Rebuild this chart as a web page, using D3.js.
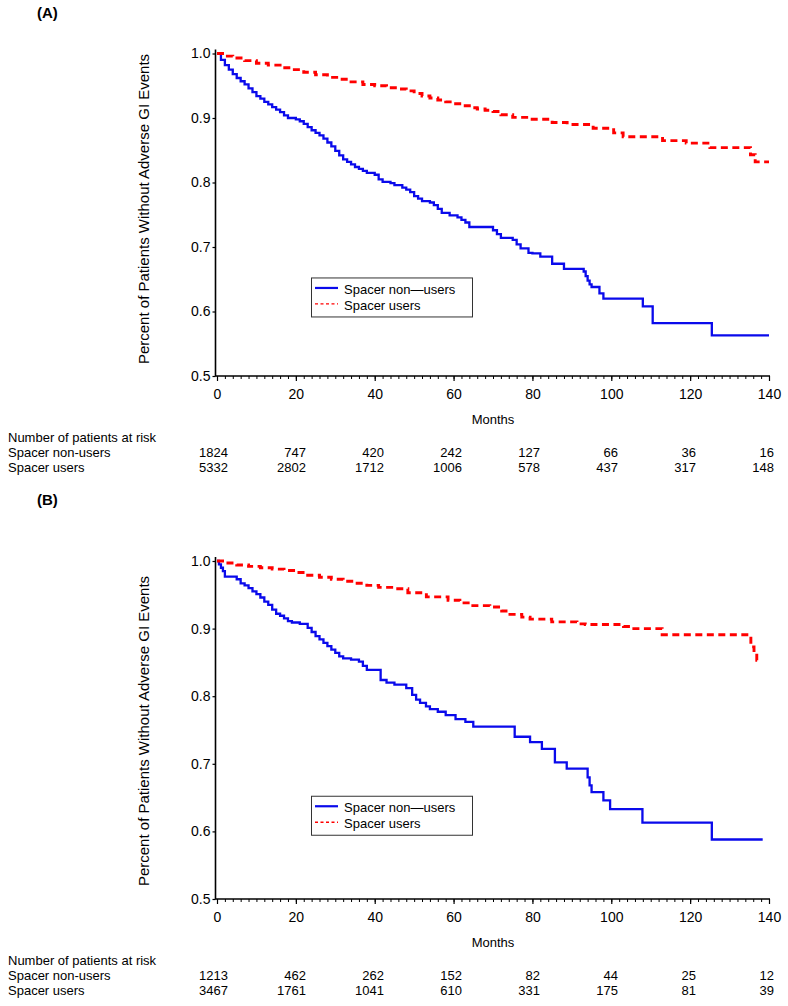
<!DOCTYPE html>
<html><head><meta charset="utf-8">
<script src="https://cdn.jsdelivr.net/npm/d3@7"></script>
<style>
body{margin:0;background:#fff}
svg{display:block}
text{font-family:"Liberation Sans",Arial,Helvetica,sans-serif;fill:#000}
</style></head>
<body><svg id="chart" width="788" height="1006"></svg>
<script>
// ---------- data ----------
const panelLabels = ["(A)", "(B)"];
const xTicks = [0, 20, 40, 60, 80, 100, 120, 140];
const yTicks = [0.5, 0.6, 0.7, 0.8, 0.9, 1.0];
const yTitle = "Percent of Patients Without Adverse GI Events";
const xTitle = "Months";
const seriesNames = ["Spacer non\u2014users", "Spacer users"];
const riskTitle = "Number of patients at risk";
const riskRowLabels = ["Spacer non-users", "Spacer users"];

const riskA_nonusers = [1824, 747, 420, 242, 127, 66, 36, 16];
const riskA_users    = [5332, 2802, 1712, 1006, 578, 437, 317, 148];
const riskB_nonusers = [1213, 462, 262, 152, 82, 44, 25, 12];
const riskB_users    = [3467, 1761, 1041, 610, 331, 175, 81, 39];

// Panel A, spacer non-users (months, survival)
const A_non_t = [0,1,2,3,4,5,6,7,8,9,10,11,12,13,14,15,16,17,18,20,21,22,23,24,25,26,27,28,29,30,31,32,33,34,35,36,37,38,40,41,42,44,45,47,48,49,50,51,52,54,55,56,57,59,61,62,63,64,70,71,72,75,76,77,79,80,82,85,88,93,93.5,94,94.5,95,97,98,108,110.5,125.5,140];
const A_non_s = [1,0.99,0.982,0.975,0.968,0.962,0.957,0.952,0.946,0.94,0.934,0.93,0.925,0.921,0.917,0.913,0.909,0.904,0.9,0.898,0.895,0.891,0.886,0.881,0.877,0.873,0.868,0.862,0.856,0.849,0.842,0.836,0.832,0.828,0.824,0.821,0.818,0.815,0.812,0.805,0.801,0.799,0.796,0.792,0.789,0.785,0.779,0.775,0.771,0.769,0.765,0.759,0.753,0.749,0.746,0.742,0.738,0.731,0.726,0.72,0.714,0.711,0.704,0.698,0.691,0.69,0.685,0.674,0.666,0.662,0.655,0.648,0.642,0.638,0.628,0.62,0.608,0.582,0.563,0.563];
// Panel A, spacer users
const A_use_t = [0,2,4,7,10,13,16,19,22,25,28,31,34,37,40,43,46,48,50,52,54,56,58,60,62,64,66,68,70,72,75,79.4,85,88.8,95.4,100.6,103,113,119,125,135.3,136.5,140];
const A_use_s = [1,0.996,0.993,0.989,0.985,0.982,0.978,0.975,0.971,0.967,0.963,0.96,0.956,0.952,0.95,0.947,0.945,0.942,0.938,0.934,0.931,0.928,0.925,0.922,0.919,0.916,0.914,0.912,0.91,0.905,0.901,0.898,0.893,0.89,0.884,0.877,0.871,0.865,0.861,0.854,0.843,0.832,0.832];
// Panel B, spacer non-users
const B_non_t = [0,0.5,1,1.5,2,5,6,7,8,9,10,11,12,13,14,15,16,17,18,19,21,23,24,25,26,27,28,29,30,31,32,34,36,37,38,41.5,43,45,48,49.5,50.5,51.5,53,54,56,58,60.5,63,65,75.5,79.4,82.4,85.7,88.7,94,94.5,95,98,99.7,107.9,125.5,138.4];
const B_non_s = [1,0.995,0.99,0.985,0.977,0.973,0.967,0.964,0.96,0.955,0.951,0.946,0.94,0.935,0.928,0.922,0.919,0.915,0.911,0.909,0.907,0.901,0.895,0.889,0.884,0.879,0.874,0.869,0.864,0.859,0.856,0.854,0.851,0.845,0.839,0.824,0.82,0.817,0.812,0.802,0.795,0.79,0.785,0.781,0.777,0.772,0.766,0.762,0.755,0.74,0.732,0.722,0.702,0.693,0.68,0.668,0.658,0.646,0.633,0.613,0.588,0.588];
// Panel B, spacer users
const B_use_t = [0,2,5,8,11,14,17,20,23,26,29,32,35,38,41,45,48.4,53.1,58.6,61.6,63.7,69.2,72.2,74.3,77.3,79.4,84.9,91.3,93.4,103.1,105.3,112.9,135.4,136.2,136.9,137.2];
const B_use_s = [1,0.997,0.994,0.992,0.99,0.988,0.986,0.983,0.979,0.976,0.973,0.97,0.967,0.964,0.961,0.959,0.953,0.947,0.942,0.938,0.934,0.932,0.926,0.921,0.917,0.914,0.91,0.907,0.906,0.903,0.9,0.891,0.873,0.864,0.853,0.853];

// ---------- drawing ----------
const svg = d3.select("#chart");
const BLUE = "#0a0aeb", RED = "#ff0000";

const panels = [
  {label: panelLabels[0], yTop: 53.5, yBot: 376, labelY: 13, titleY: 209,
   non: [A_non_t, A_non_s], use: [A_use_t, A_use_s], risk: [riskA_nonusers, riskA_users]},
  {label: panelLabels[1], yTop: 561, yBot: 899, labelY: 500, titleY: 731,
   non: [B_non_t, B_non_s], use: [B_use_t, B_use_s], risk: [riskB_nonusers, riskB_users]}
];

function drawPanel(p) {
  const g = svg.append("g");
  const x = d3.scaleLinear().domain([0, 140]).range([217, 769]);
  const y = d3.scaleLinear().domain([0.5, 1.0]).range([p.yBot, p.yTop]);
  const axisX = 215.5;

  g.append("text").attr("x", 37).attr("y", p.labelY).attr("dy", "0.35em")
    .style("font-size", "15px").style("font-weight", "bold").text(p.label);

  // y axis
  const ya = g.append("g").attr("transform", `translate(${axisX},0)`)
    .call(d3.axisLeft(y).tickValues(yTicks).tickFormat(d3.format(".1f")).tickSize(3).tickSizeOuter(0).tickPadding(2));
  ya.select(".domain").remove();
  ya.selectAll("text").style("font-size", "14px").style("font-family", '"Liberation Sans",Arial,sans-serif');
  ya.selectAll("line").attr("stroke", "#000").attr("stroke-width", 1.2);
  g.append("line").attr("x1", axisX).attr("x2", axisX).attr("y1", p.yTop - 4).attr("y2", p.yBot + 0.5)
    .attr("stroke", "#000").attr("stroke-width", 1.6);

  // x axis minor
  const xm = g.append("g").attr("transform", `translate(0,${p.yBot})`)
    .call(d3.axisBottom(x).tickValues(d3.range(0, 141, 2)).tickFormat("").tickSize(3).tickSizeOuter(0));
  xm.select(".domain").remove();
  xm.selectAll("line").attr("stroke", "#000").attr("stroke-width", 1);
  const xa = g.append("g").attr("transform", `translate(0,${p.yBot})`)
    .call(d3.axisBottom(x).tickValues(xTicks).tickSize(5).tickSizeOuter(0).tickPadding(8));
  xa.select(".domain").remove();
  xa.selectAll("line").attr("stroke", "#000").attr("stroke-width", 1.2);
  xa.selectAll("text").style("font-size", "14px").style("font-family", '"Liberation Sans",Arial,sans-serif');
  g.append("line").attr("x1", axisX).attr("x2", 770).attr("y1", p.yBot).attr("y2", p.yBot)
    .attr("stroke", "#000").attr("stroke-width", 1.6);

  // titles
  g.append("text").attr("transform", `translate(144,${p.titleY}) rotate(-90)`)
    .attr("text-anchor", "middle").attr("dy", "0.35em").style("font-size", "15px").text(yTitle);
  g.append("text").attr("x", (x(0) + x(140)) / 2).attr("y", p.yBot + 43).attr("dy", "0.35em")
    .attr("text-anchor", "middle").style("font-size", "13px").text(xTitle);

  // curves
  const line = d3.line().x(d => x(d[0])).y(d => y(d[1])).curve(d3.curveStepAfter);
  const nonPts = p.non[0].map((t, i) => [t, p.non[1][i]]);
  const usePts = p.use[0].map((t, i) => [t, p.use[1][i]]);
  g.append("path").datum(nonPts).attr("d", line).attr("fill", "none")
    .attr("stroke", BLUE).attr("stroke-width", 2.3);
  g.append("path").datum(usePts).attr("d", line).attr("fill", "none")
    .attr("stroke", RED).attr("stroke-width", 2.9).attr("stroke-dasharray", "7,4.5");

  // legend
  const ly = y(0.652);
  const lg = g.append("g");
  lg.append("rect").attr("x", 311.5).attr("y", ly).attr("width", 161).attr("height", 39)
    .attr("fill", "#fff").attr("stroke", "#333").attr("stroke-width", 1);
  lg.append("line").attr("x1", 315).attr("x2", 338).attr("y1", ly + 10).attr("y2", ly + 10)
    .attr("stroke", BLUE).attr("stroke-width", 2.2);
  lg.append("line").attr("x1", 315).attr("x2", 338).attr("y1", ly + 26).attr("y2", ly + 26)
    .attr("stroke", RED).attr("stroke-width", 1.3).attr("stroke-dasharray", "3,2.5");
  lg.append("text").attr("x", 344).attr("y", ly + 11).attr("dy", "0.35em").style("font-size", "13px").text(seriesNames[0]);
  lg.append("text").attr("x", 344).attr("y", ly + 27).attr("dy", "0.35em").style("font-size", "13px").text(seriesNames[1]);

  // risk table
  const col = d3.scaleLinear().domain([0, 140]).range([228, 774]);
  const base = p.yBot;
  g.append("text").attr("x", 8).attr("y", base + 61).attr("dy", "0.35em").style("font-size", "13px").text(riskTitle);
  [0, 1].forEach(r => {
    const yy = base + 76 + r * 15;
    g.append("text").attr("x", 8).attr("y", yy).attr("dy", "0.35em").style("font-size", "13px").text(riskRowLabels[r]);
    g.selectAll(null).data(p.risk[r]).enter().append("text")
      .attr("x", (d, i) => col(xTicks[i])).attr("y", yy).attr("dy", "0.35em")
      .attr("text-anchor", "end").style("font-size", "13px").text(d => d);
  });
}
panels.forEach(drawPanel);
</script></body></html>
